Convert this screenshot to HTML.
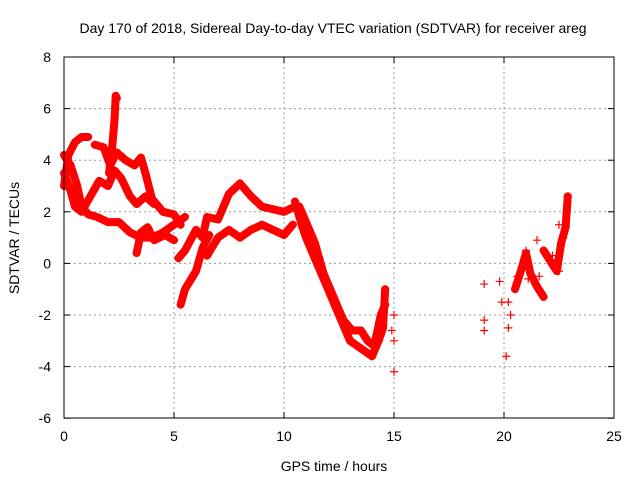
<!DOCTYPE html>
<html><head><meta charset="utf-8"><style>
body{margin:0;background:#fff}
svg text{font-family:"Liberation Sans",sans-serif;font-size:14px;fill:#000}
</style></head><body>
<svg width="640" height="480" id="c">
<rect width="640" height="480" fill="#fff"/>
<g id="grid"></g><g id="marks"></g>
<rect x="64" y="57" width="550" height="361" fill="none" stroke="#000" stroke-width="1"/>
<text x="333" y="33" text-anchor="middle">Day 170 of 2018, Sidereal Day-to-day VTEC variation (SDTVAR) for receiver areg</text>
<text x="334" y="471" text-anchor="middle">GPS time / hours</text>
<text transform="translate(19,238) rotate(-90)" text-anchor="middle">SDTVAR / TECUs</text>
</svg>
<script>
const xTicks=[0,5,10,15,20,25];
const yTicks=[-6,-4,-2,0,2,4,6,8];
const trackA=[[0,3.0],[0.2,4.2],[0.5,4.7],[0.8,4.9],[1.1,4.9]];
const trackB=[[0,4.2],[0.3,3.8],[0.6,3.0],[0.8,2.2],[1.1,1.9],[1.5,1.8],[2,1.6],[2.5,1.6],[3,1.2],[3.5,1.0],[4,1.0],[4.5,1.2],[5,1.5],[5.5,1.8]];
const trackC=[[0,3.5],[0.3,2.8],[0.5,2.2],[0.8,2.0],[1.2,2.6],[1.6,3.2],[2.0,3.0],[2.3,3.6],[2.6,3.3],[3.0,2.6],[3.3,2.3],[3.7,2.6],[4.1,2.3]];
const trackD=[[1.4,4.6],[1.8,4.5],[2.1,3.8],[2.4,4.3],[2.8,4.0],[3.2,3.8],[3.5,4.1],[3.7,3.5],[4,2.5],[4.5,2.0],[5,1.9],[5.3,1.5]];
const trackE=[[2.05,3.5],[2.2,4.6],[2.3,5.6],[2.35,6.5],[2.4,6.4]];
const trackF=[[3.3,0.4],[3.5,1.2],[3.8,1.4],[4.1,0.9],[4.6,1.1],[5,0.9]];
const trackG=[[5.2,0.2],[5.5,0.5],[6,1.3],[6.3,1.0],[6.5,1.8],[7,1.7],[7.5,2.7],[8,3.1],[8.5,2.6],[9,2.2],[9.5,2.1],[10,2.0],[10.5,2.2]];
const trackH=[[5.3,-1.6],[5.5,-1.0],[6,-0.3],[6.3,0.6],[6.6,1.1]];
const trackI=[[6.5,0.3],[7,1.0],[7.5,1.3],[8,1.0],[8.5,1.3],[9,1.5],[9.5,1.3],[10,1.1],[10.4,1.5]];
const trackJ=[[10.5,2.4],[10.8,1.5],[11,1.0],[11.5,0],[12,-1],[12.5,-2],[13,-3],[13.5,-3.3],[14,-3.6],[14.3,-3.0],[14.5,-2.5],[14.6,-1.0]];
const trackM=[[10.7,2.2],[11,1.6],[11.4,0.8],[11.8,-0.4],[12.2,-1.2],[12.7,-2.2],[13.1,-2.6],[13.5,-2.6],[13.8,-3.0],[14.1,-3.2],[14.4,-2.0],[14.6,-1.6]];
const trackK=[[20.5,-1.0],[20.8,-0.2],[21,0.4],[21.2,-0.4],[21.5,-0.9],[21.8,-1.3]];
const trackL=[[21.8,0.5],[22.1,0.1],[22.4,-0.3],[22.6,0.8],[22.8,1.4],[22.9,2.6]];
const scatter=[[15,-2],[15,-3],[15,-4.2],[14.9,-2.6],[19.1,-0.8],[19.1,-2.2],[19.1,-2.6],[19.8,-0.7],[19.9,-1.5],[20.1,-3.6],[20.2,-2.5],[20.2,-1.5],[20.3,-2.0],[20.6,-0.5],[21,0.5],[21.1,-0.6],[21.5,0.9],[21.6,-0.5],[22.2,0.3],[22.5,-0.3],[22.5,1.5],[22.7,1.0]];
const tracks=[trackA,trackB,trackC,trackD,trackE,trackF,trackG,trackH,trackI,trackJ,trackM,trackK,trackL];
const X=v=>64+v*22, Y=v=>263.4-v*25.8;
const NS='http://www.w3.org/2000/svg';
const grid=document.getElementById('grid'), marks=document.getElementById('marks');
function mk(tag,at,par){const e=document.createElementNS(NS,tag);for(const k in at)e.setAttribute(k,at[k]);par.appendChild(e);return e;}
xTicks.forEach(t=>{
  if(t>0&&t<25){const l=mk('line',{x1:X(t),x2:X(t),y1:57,y2:418,stroke:'#999','stroke-dasharray':'2,3'},grid);
  
  }
  mk('line',{x1:X(t),x2:X(t),y1:418,y2:412,stroke:'#000'},grid);
  mk('line',{x1:X(t),x2:X(t),y1:57,y2:63,stroke:'#000'},grid);
  const tx=mk('text',{x:X(t),y:441,'text-anchor':'middle'},grid);tx.textContent=t;
  
  
});
yTicks.forEach(t=>{
  if(t>-6&&t<8){const l=mk('line',{x1:64,x2:614,y1:Y(t),y2:Y(t),stroke:'#999','stroke-dasharray':'2,3'},grid);
  
  }
  mk('line',{x1:64,x2:70,y1:Y(t),y2:Y(t),stroke:'#000'},grid);
  mk('line',{x1:614,x2:608,y1:Y(t),y2:Y(t),stroke:'#000'},grid);
  const tx=mk('text',{x:51,y:Y(t)+5,'text-anchor':'end'},grid);tx.textContent=t;
  
  
});
function plus(p){
  const x=X(p[0]),y=Y(p[1]);
  const e=mk('path',{d:`M${x-4} ${y}H${x+4}M${x} ${y-4}V${y+4}`,stroke:'red','stroke-width':1.2},marks);
  
  
}
tracks.forEach(tr=>{
  const pl=mk('polyline',{points:tr.map(p=>X(p[0])+','+Y(p[1])).join(' '),fill:'none',stroke:'red','stroke-width':8,'stroke-linejoin':'round','stroke-linecap':'round'},marks);
  
  
  tr.forEach(plus);
});
scatter.forEach(plus);
</script>
</body></html>
